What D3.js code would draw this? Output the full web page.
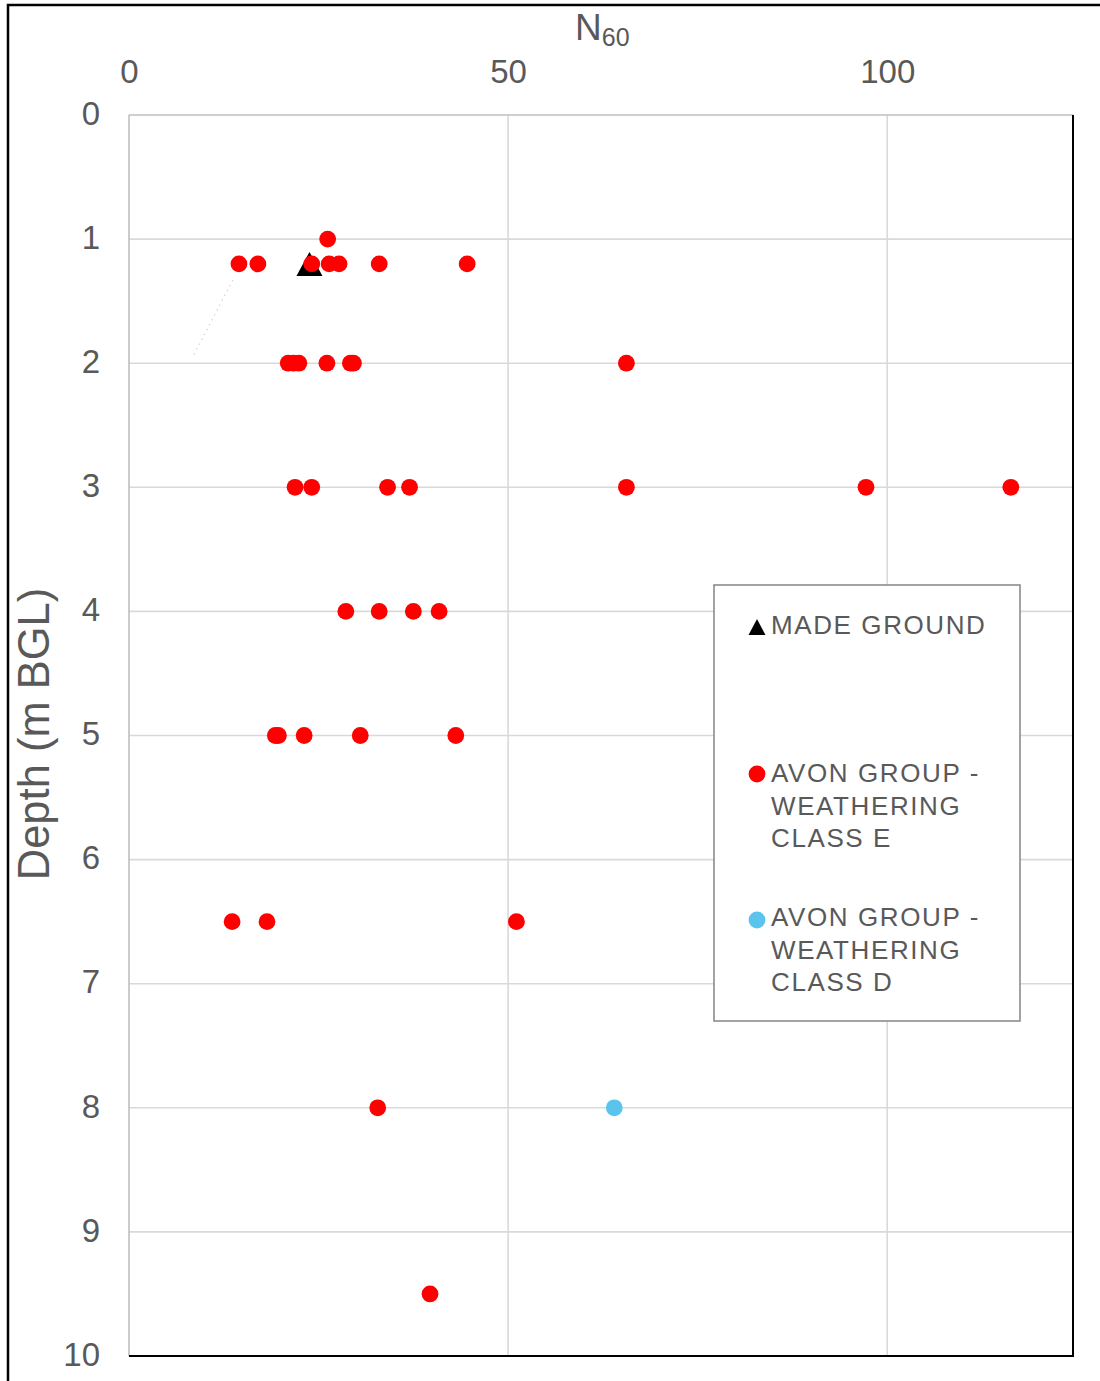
<!DOCTYPE html>
<html>
<head>
<meta charset="utf-8">
<script src="https://cdn.jsdelivr.net/npm/d3@7"></script>
<style>
  html, body { margin: 0; padding: 0; background: #fff; }
  svg { display: block; }
  text { font-family: "Liberation Sans", Arial, sans-serif; fill: #595959; }
</style>
</head>
<body>
<svg id="chart" width="1100" height="1381"></svg>
<script>
// N60 blow counts by depth (m below ground level)
const madeGroundN = [23.8];
const madeGroundDepth = [1.2];

const classEN = [26.2,
  14.5, 17.0, 24.1, 26.4, 27.7, 33.0, 44.6,
  21.0, 21.7, 22.4, 26.1, 29.2, 29.6, 65.6,
  21.9, 24.1, 34.1, 37.0, 65.6, 97.2, 116.3,
  28.6, 33.0, 37.5, 40.9,
  19.3, 19.7, 23.1, 30.5, 43.1,
  13.6, 18.2, 51.1,
  32.8,
  39.7];
const classEDepth = [1.0,
  1.2, 1.2, 1.2, 1.2, 1.2, 1.2, 1.2,
  2.0, 2.0, 2.0, 2.0, 2.0, 2.0, 2.0,
  3.0, 3.0, 3.0, 3.0, 3.0, 3.0, 3.0,
  4.0, 4.0, 4.0, 4.0,
  5.0, 5.0, 5.0, 5.0, 5.0,
  6.5, 6.5, 6.5,
  8.0,
  9.5];

const classDN = [64.0];
const classDDepth = [8.0];

// faint dotted trace left in the plot
const traceN = [13.7, 8.4];
const traceDepth = [1.33, 1.95];

const xTicks = [0, 50, 100];
const yTicks = [0, 1, 2, 3, 4, 5, 6, 7, 8, 9, 10];

const legendLabels = [
  ["MADE GROUND"],
  ["AVON GROUP -", "WEATHERING", "CLASS E"],
  ["AVON GROUP -", "WEATHERING", "CLASS D"]
];

const RED = "#ff0000";
const BLUE = "#5bc4ec";
const BLACK = "#000000";

const svg = d3.select("#chart");

// outer frame
svg.append("rect")
  .attr("x", 8).attr("y", 5)
  .attr("width", 1100).attr("height", 1400)
  .attr("fill", "none").attr("stroke", "#000").attr("stroke-width", 2.5);

const x = d3.scaleLinear().domain([0, 124.5]).range([129, 1073]);
const y = d3.scaleLinear().domain([0, 10]).range([115, 1356]);

// gridlines
svg.append("g").selectAll("line")
  .data(yTicks.filter(d => d > 0 && d < 10))
  .join("line")
  .attr("x1", x(0)).attr("x2", x.range()[1])
  .attr("y1", d => y(d)).attr("y2", d => y(d))
  .attr("stroke", "#d9d9d9").attr("stroke-width", 1.6);

svg.append("g").selectAll("line")
  .data(xTicks.filter(d => d > 0))
  .join("line")
  .attr("x1", d => x(d)).attr("x2", d => x(d))
  .attr("y1", y(0)).attr("y2", y(10))
  .attr("stroke", "#d9d9d9").attr("stroke-width", 1.6);

// plot area edges: grey top/left, black right/bottom
svg.append("line").attr("x1", x(0)).attr("x2", x.range()[1]).attr("y1", y(0)).attr("y2", y(0))
  .attr("stroke", "#bfbfbf").attr("stroke-width", 1.6);
svg.append("line").attr("x1", x(0)).attr("x2", x(0)).attr("y1", y(0)).attr("y2", y(10))
  .attr("stroke", "#bfbfbf").attr("stroke-width", 1.6);
svg.append("line").attr("x1", x.range()[1]).attr("x2", x.range()[1]).attr("y1", y(0)).attr("y2", y(10) + 1)
  .attr("stroke", "#000").attr("stroke-width", 2);
svg.append("line").attr("x1", x(0)).attr("x2", x.range()[1] + 1).attr("y1", y(10)).attr("y2", y(10))
  .attr("stroke", "#000").attr("stroke-width", 2);

// tick labels
const yAxis = d3.axisLeft(y).tickValues(yTicks).tickSize(0).tickPadding(0);
const gy = svg.append("g").attr("transform", `translate(${x(0) - 29},0)`).call(yAxis);
gy.select(".domain").remove();
gy.selectAll("text")
  .attr("font-size", 33).attr("font-family", null).attr("fill", "#595959")
  .attr("dy", "0.28em");

const xAxis = d3.axisTop(x).tickValues(xTicks).tickSize(0).tickPadding(0);
const gx = svg.append("g").attr("transform", `translate(0,83)`).call(xAxis);
gx.select(".domain").remove();
gx.selectAll("text")
  .attr("font-size", 33).attr("font-family", null).attr("fill", "#595959")
  .attr("dy", 0);

// axis titles
const title = svg.append("text")
  .attr("x", 575).attr("y", 40)
  .attr("font-size", 37);
title.append("tspan").text("N");
title.append("tspan").attr("font-size", 25).attr("dy", 6).text("60");

svg.append("text")
  .attr("transform", `translate(49,734) rotate(-90)`)
  .attr("text-anchor", "middle")
  .attr("font-size", 43.5)
  .text("Depth (m BGL)");

// dotted trace
svg.append("path")
  .datum(d3.zip(traceN, traceDepth))
  .attr("d", d3.line().x(d => x(d[0])).y(d => y(d[1])))
  .attr("fill", "none").attr("stroke", "#d4d4d4").attr("stroke-width", 1.2)
  .attr("stroke-dasharray", "1.5 4");

// triangle centred on its bounding box
function triangle(cx, cy, w, h) {
  const p = d3.path();
  p.moveTo(cx, cy - h / 2);
  p.lineTo(cx + w / 2, cy + h / 2);
  p.lineTo(cx - w / 2, cy + h / 2);
  p.closePath();
  return p.toString();
}

// points
svg.append("g").selectAll("path")
  .data(d3.zip(madeGroundN, madeGroundDepth))
  .join("path")
  .attr("d", d => triangle(x(d[0]), y(d[1]), 26, 24))
  .attr("fill", BLACK);

svg.append("g").selectAll("circle")
  .data(d3.zip(classEN, classEDepth))
  .join("circle")
  .attr("cx", d => x(d[0])).attr("cy", d => y(d[1]))
  .attr("r", 8.4).attr("fill", RED);

svg.append("g").selectAll("circle")
  .data(d3.zip(classDN, classDDepth))
  .join("circle")
  .attr("cx", d => x(d[0])).attr("cy", d => y(d[1]))
  .attr("r", 8.4).attr("fill", BLUE);

// legend
const lg = svg.append("g");
lg.append("rect")
  .attr("x", 714).attr("y", 585).attr("width", 306).attr("height", 436)
  .attr("fill", "#fff").attr("stroke", "#8c8c8c").attr("stroke-width", 1.6);

const entryTop = [634, 782, 926];
const markerY = [627, 774, 920];

lg.append("path").attr("d", triangle(757, markerY[0], 17, 16)).attr("fill", BLACK);
lg.append("circle").attr("cx", 757).attr("cy", markerY[1]).attr("r", 8.4).attr("fill", RED);
lg.append("circle").attr("cx", 757).attr("cy", markerY[2]).attr("r", 8.4).attr("fill", BLUE);

legendLabels.forEach((lines, i) => {
  const t = lg.append("text")
    .attr("x", 771).attr("y", entryTop[i])
    .attr("font-size", 26).attr("letter-spacing", 1.6);
  lines.forEach((ln, j) => {
    t.append("tspan").attr("x", 771).attr("dy", j === 0 ? 0 : 32.5).text(ln);
  });
});
</script>
</body>
</html>
